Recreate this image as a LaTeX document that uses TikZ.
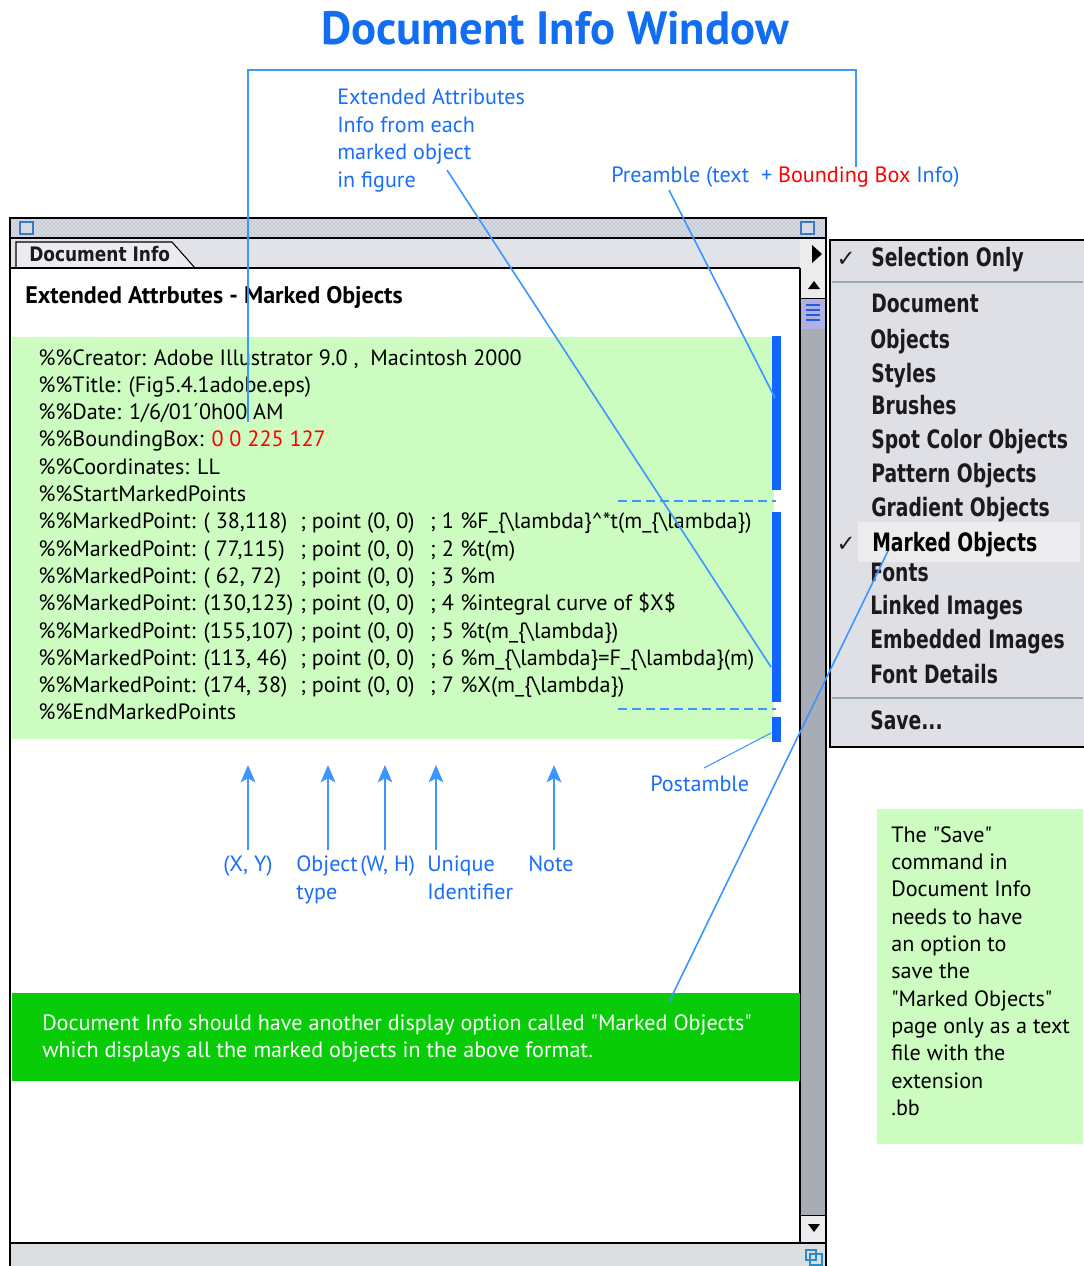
\documentclass[tikz,border=0pt]{standalone}
\usepackage{fontspec}
\setmainfont{PT Sans}
\newfontfamily\menufont[FakeStretch=0.74]{DejaVu Sans}
\newfontfamily\tabfont[FakeStretch=0.85]{DejaVu Sans}
\newfontfamily\symfont{DejaVu Sans}
\usetikzlibrary{arrows.meta,patterns}
\definecolor{annblue}{RGB}{25,110,250}
\definecolor{lineblue}{RGB}{60,150,255}
\definecolor{barblue}{RGB}{17,102,255}
\definecolor{lightgreen}{RGB}{204,252,192}
\definecolor{darkgreen}{RGB}{8,204,8}
\definecolor{titleblue}{RGB}{17,110,240}
\definecolor{menubg}{RGB}{222,224,230}
\definecolor{menuhi}{RGB}{236,236,238}
\definecolor{trackgrey}{RGB}{168,172,180}
\definecolor{tabgrey}{RGB}{226,227,232}
\definecolor{tablight}{RGB}{236,236,240}
\definecolor{barbg}{RGB}{214,218,226}
\definecolor{dotgrey}{RGB}{150,160,180}
\definecolor{iconblue}{RGB}{60,120,200}
\definecolor{thumb}{RGB}{176,176,228}
\definecolor{thumbline}{RGB}{40,90,220}
\definecolor{bottomgrey}{RGB}{220,221,225}
\definecolor{resizeblue}{RGB}{40,140,200}
\definecolor{sepline}{RGB}{150,170,190}
\definecolor{menutext}{RGB}{30,25,30}
\newlength\pxu \setlength\pxu{0.75pt}
\newcommand\codefont{\fontsize{16.6}{20.5}\selectfont}
\newcommand\q{\textquotedbl}
\newcommand\mpline[3]{\makebox[262\pxu][l]{\%\%MarkedPoint: #1}\makebox[130\pxu][l]{; point (0, 0)}\makebox[30\pxu][l]{; #2}#3}
\newcommand\lam{\textbackslash lambda}
\begin{document}
\begin{tikzpicture}[x=0.75pt,y=-0.75pt,
  conn/.style={draw=lineblue, line width=1.2pt},
  ann/.style={text=annblue, inner sep=0, anchor=base west, font=\codefont},
  code/.style={inner sep=0, anchor=base west, font=\codefont},
  menuitem/.style={inner sep=0, anchor=base west, font=\menufont\bfseries\fontsize{19}{22}\selectfont, text=menutext},
  checkmark/.style={inner sep=0, anchor=base, font=\symfont\fontsize{17}{20}\selectfont, text=menutext},
  uparrow/.style={conn, -{Stealth[length=13pt,width=11pt,inset=3pt]}},
  bar/.style={fill=barblue, inner sep=0, minimum width=6.75pt},
  dashline/.style={draw=lineblue, line width=1.5pt, dash pattern=on 6.75pt off 3.75pt}
]
\useasboundingbox (0,0) rectangle (1083,1266);
\fill[white] (0,0) rectangle (1083,1266);

% title
\node[inner sep=0, font=\bfseries\fontsize{35}{40}\selectfont, text=titleblue] (title) at (555,28) {Document Info Window};

% ---------- window ----------
\fill[barbg] (11,219) rectangle (825,238);
\fill[pattern=crosshatch dots, pattern color=dotgrey] (11,219) rectangle (825,238);
\draw[draw=iconblue, fill=barbg, line width=0.8pt] (20,222) rectangle (33,234);
\draw[draw=iconblue, fill=barbg, line width=0.8pt] (801,222) rectangle (814,234);
\fill[tabgrey] (11,238) rectangle (800,268);
\fill[menuhi] (800,238) rectangle (826,268);
\draw[line width=0.8pt, fill=tablight] (16,268) -- (16,242) -- (172,242) -- (195,268);
\node[inner sep=0, anchor=base west, font=\tabfont\bfseries\fontsize{15}{17}\selectfont, text=menutext] (tab) at (29,262) {Document Info};
\draw[line width=1pt] (11,268) -- (800,268);
\draw[line width=1.5pt] (10,238) -- (826,238);
\fill[black] (812,245) -- (822,254) -- (812,263) -- cycle;

% scrollbar
\fill[menuhi] (800,268) rectangle (826,298);
\fill[black] (808,289) -- (820,289) -- (814,281) -- cycle;
\fill[thumb] (801,298) rectangle (825,329);
\foreach \yy in {305,310,315,320} \draw[draw=thumbline, line width=0.8pt] (806,\yy) -- (820,\yy);
\fill[trackgrey] (801,329) rectangle (825,1215);
\fill[menuhi] (801,1215) rectangle (825,1242);
\fill[black] (808,1224) -- (820,1224) -- (814,1232) -- cycle;
\draw[line width=1pt] (800,268) -- (800,1242);
\draw[line width=0.6pt] (800,298) -- (826,298) (800,1215) -- (826,1215);
\fill[bottomgrey] (11,1243) rectangle (825,1266);
\draw[line width=1.2pt] (10,1243) -- (826,1243);
\draw[draw=resizeblue, line width=0.9pt] (806,1250) rectangle (816,1260) (810,1254) rectangle (822,1265);
% window frame
\draw[line width=1.5pt] (10,1267) -- (10,218) -- (826,218) -- (826,1267);

% heading
\node[inner sep=0, anchor=base west, font=\bfseries\fontsize{18}{20}\selectfont] (heading) at (25,303) {Extended Attrbutes - Marked Objects};

% light green area
\fill[lightgreen] (12,337) rectangle (774,739);

\node[code] (l1) at (38,365) {\%\%Creator: Adobe Illustrator 9.0 ,~ Macintosh 2000};
\node[code] (l2) at (38,392.3) {\%\%Title: (Fig5.4.1adobe.eps)};
\node[code] (l3) at (38,419.6) {\%\%Date: 1/6/01´0h00 AM};
\node[code] (l4) at (38,446.9) {\%\%BoundingBox: \textcolor{red}{0 0 225 127}};
\node[code] (l5) at (38,474.2) {\%\%Coordinates: LL};
\node[code] (l6) at (38,501.5) {\%\%StartMarkedPoints};
\node[code] (l7) at (38,528.8) {\mpline{( 38,118)}{1}{\%F\_\{\lam\}\textasciicircum*t(m\_\{\lam\})}};
\node[code] (l8) at (38,556.1) {\mpline{( 77,115)}{2}{\%t(m)}};
\node[code] (l9) at (38,583.4) {\mpline{( 62, 72)}{3}{\%m}};
\node[code] (l10) at (38,610.7) {\mpline{(130,123)}{4}{\%integral curve of \$X\$}};
\node[code] (l11) at (38,638.0) {\mpline{(155,107)}{5}{\%t(m\_\{\lam\})}};
\node[code] (l12) at (38,665.3) {\mpline{(113, 46)}{6}{\%m\_\{\lam\}=F\_\{\lam\}(m)}};
\node[code] (l13) at (38,692.6) {\mpline{(174, 38)}{7}{\%X(m\_\{\lam\})}};
\node[code] (l14) at (38,719.9) {\%\%EndMarkedPoints};

% bars and dashed separators
\node[bar, minimum height=115.5pt] (bar1) at (776,413) {};
\node[bar, minimum height=142.5pt] (bar2) at (776,607) {};
\node[bar, minimum height=18.75pt] (bar3) at (776,729.5) {};
\coordinate (d1a) at (618,501); \coordinate (d1b) at (776,501);
\coordinate (d2a) at (618,709); \coordinate (d2b) at (776,709);
\draw[dashline] (d1a) -- (d1b);
\draw[dashline] (d2a) -- (d2b);

% ---------- annotations ----------
\node[ann] (ea1t) at (337,105) {Extended Attributes};
\node[ann] (ea2t) at (337,132.5) {Info from each};
\node[ann] (ea3t) at (337,160) {marked object};
\node[ann] (ea4t) at (337,187.5) {in figure};
\node[ann] (preamble) at (611,183) {Preamble (text~ + \textcolor{red}{Bounding Box} Info)};
\node[ann] (postamble) at (650,791) {Postamble};

% bracket connector
\coordinate (br1) at (248,422);
\coordinate (br2) at (248,70);
\coordinate (br3) at (856,70);
\coordinate (br4) at (856,167);
\draw[conn] (br1) -- (br2) -- (br3) -- (br4);

\coordinate (ea1) at (447,170);
\coordinate (ea2) at (771,667);
\draw[conn] (ea1) -- (ea2);
\coordinate (pa1) at (669,190);
\coordinate (pa2) at (775,398);
\draw[conn] (pa1) -- (pa2);
\coordinate (po1) at (704,768);
\coordinate (po2) at (771,733);
\draw[conn, line width=0.8pt] (po1) -- (po2);

% column labels and arrows
\node[ann] (xy) at (223,871) {(X, Y)};
\node[ann] (obj1) at (296,871) {Object};
\node[ann] (obj2) at (296,899) {type};
\node[ann] (wh) at (360,871) {(W, H)};
\node[ann] (uid1) at (427,871) {Unique};
\node[ann] (uid2) at (427,899) {Identifier};
\node[ann] (note) at (528,871) {Note};
\coordinate (a1) at (248,765); \coordinate (a1s) at (248,850);
\coordinate (a2) at (328,765); \coordinate (a2s) at (328,850);
\coordinate (a3) at (385,765); \coordinate (a3s) at (385,850);
\coordinate (a4) at (436,765); \coordinate (a4s) at (436,850);
\coordinate (a5) at (554,765); \coordinate (a5s) at (554,850);
\draw[uparrow] (a1s) -- (a1);
\draw[uparrow] (a2s) -- (a2);
\draw[uparrow] (a3s) -- (a3);
\draw[uparrow] (a4s) -- (a4);
\draw[uparrow] (a5s) -- (a5);

% dark green box
\node[fill=darkgreen, inner sep=0, minimum width=591pt, minimum height=66pt, anchor=north west] (gbox) at (12,993) {};
\node[inner sep=0, anchor=base west, text=white, font=\codefont] (gtext1) at (42,1030)
  {Document Info should have another display option called \q Marked Objects\q};
\node[inner sep=0, anchor=base west, text=white, font=\codefont] (gtext2) at (42,1057)
  {which displays all the marked objects in the above format.};

% ---------- menu ----------
\draw[line width=2.2pt, fill=menubg] (830,240) rectangle (1090,747);
\fill[menuhi] (858,522) rectangle (1080,562);
\draw[draw=sepline, line width=1pt] (832,282) -- (1083,282) (832,698) -- (1083,698);
\node[checkmark] (ck1) at (846,267) {✓};
\node[checkmark] (ck2) at (846,551) {✓};
\node[menuitem] (m0) at (871,267) {Selection Only};
\node[menuitem] (m1) at (871,312) {Document};
\node[menuitem] (m2) at (870,348) {Objects};
\node[menuitem] (m3) at (871,382) {Styles};
\node[menuitem] (m4) at (871,414) {Brushes};
\node[menuitem] (m5) at (871,448) {Spot Color Objects};
\node[menuitem] (m6) at (871,482) {Pattern Objects};
\node[menuitem] (m7) at (871,516) {Gradient Objects};
\node[menuitem, text=black] (m8) at (872,551) {Marked Objects};
\node[menuitem] (m9) at (870,581) {Fonts};
\node[menuitem] (m10) at (870,614) {Linked Images};
\node[menuitem] (m11) at (870,648) {Embedded Images};
\node[menuitem] (m12) at (870,683) {Font Details};
\node[menuitem] (m13) at (870,729) {Save...};

\coordinate (mo1) at (669,1002);
\coordinate (mo2) at (888,551);
\draw[conn] (mo1) -- (mo2);

% right note
\node[fill=lightgreen, inner sep=0, minimum width=154.5pt, minimum height=251.25pt, anchor=north west] (rbox) at (877,809) {};
\node[inner sep=0, anchor=north west, align=left, font=\codefont] (rtext) at (891,826)
  {The \q Save\q\\command in\\Document Info\\needs to have\\an option to\\save the\\\q Marked Objects\q\\page only as a text\\file with the\\extension\\.bb};
\end{tikzpicture}
\end{document}
